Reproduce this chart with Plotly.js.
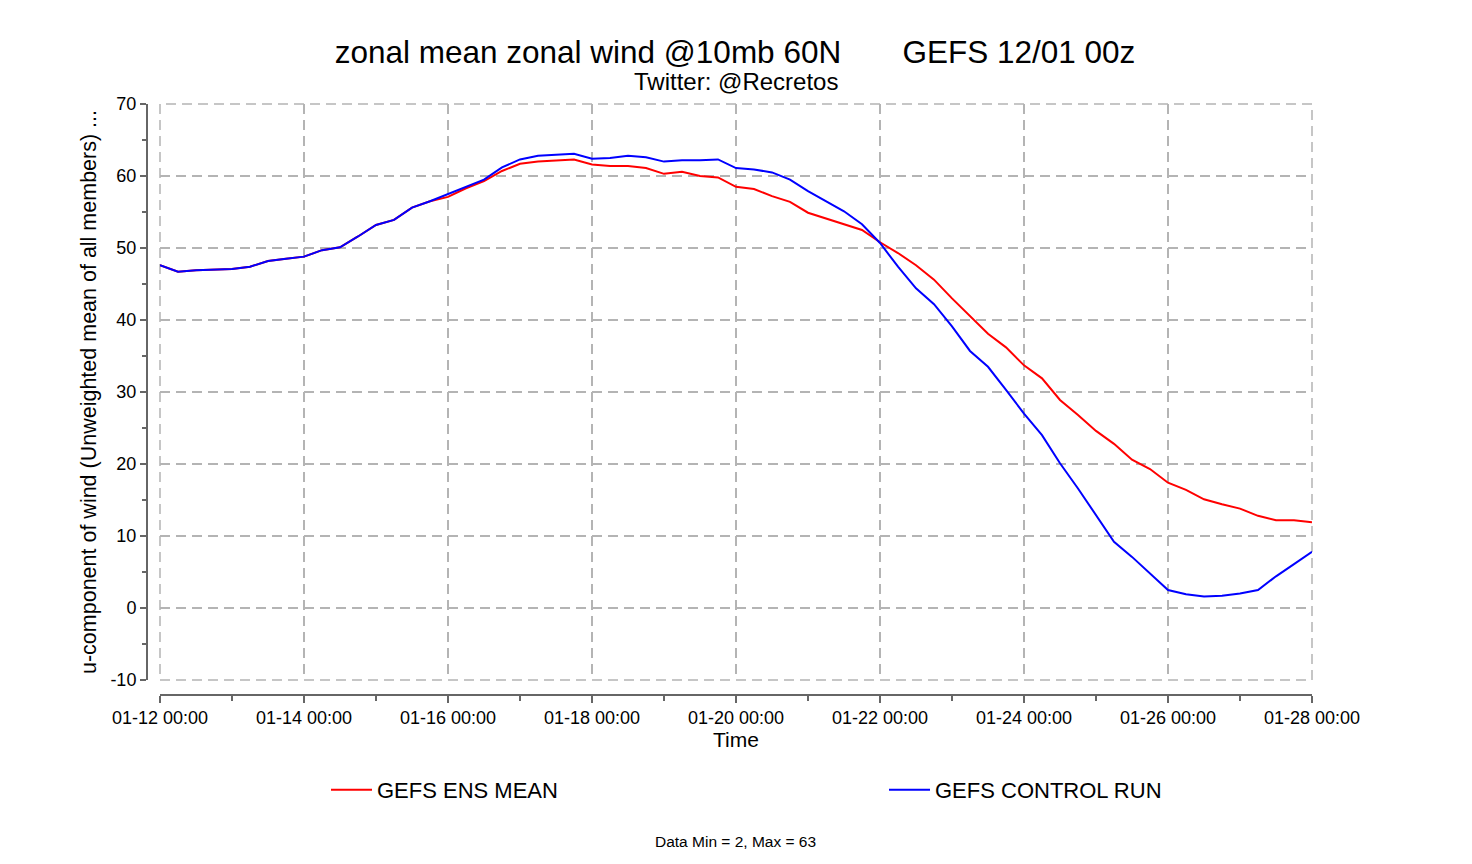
<!DOCTYPE html>
<html>
<head>
<meta charset="utf-8">
<script src="https://cdn.plot.ly/plotly-3.0.1.min.js"></script>
<style>
  body { margin: 0; background: #fff; }
  #chart { width: 1472px; height: 864px; }
</style>
</head>
<body>
<div id="chart"></div>
<script>
// 6-hourly steps from 01-12 00:00 to 01-28 00:00
var START = "2021-01-12T00:00:00";
var STEP_HOURS = 6;

var ensMean = [
    47.6, 46.7, 46.9, 47.0, 47.1, 47.4, 48.2, 48.5, 48.8, 49.7,
    50.1, 51.6, 53.2, 53.9, 55.6, 56.5, 57.1, 58.3, 59.3, 60.7,
    61.7, 62.0, 62.2, 62.3, 61.6, 61.4, 61.4, 61.1, 60.3, 60.6,
    60.0, 59.8, 58.5, 58.2, 57.2, 56.4, 54.9, 54.1, 53.4, 52.5,
    50.8, 49.3, 47.6, 45.6, 43.0, 40.6, 38.1, 36.2, 33.7, 31.9,
    28.9, 26.8, 24.6, 22.8, 20.6, 19.3, 17.4, 16.4, 15.1, 14.4,
    13.8, 12.8, 12.2, 12.2, 11.9
];
var controlRun = [
    47.6, 46.7, 46.9, 47.0, 47.1, 47.4, 48.2, 48.5, 48.8, 49.7,
    50.1, 51.6, 53.2, 53.9, 55.6, 56.5, 57.5, 58.5, 59.5, 61.2,
    62.3, 62.8, 62.9, 63.1, 62.4, 62.5, 62.8, 62.6, 62.0, 62.2,
    62.2, 62.3, 61.1, 60.9, 60.5, 59.5, 57.9, 56.5, 55.1, 53.3,
    50.7, 47.4, 44.4, 42.2, 39.1, 35.7, 33.5, 30.3, 27.0, 24.0,
    20.1, 16.6, 12.9, 9.2, 7.1, 4.8, 2.5, 1.9, 1.6, 1.7,
    2.0, 2.5, 4.4, 6.1, 7.8
];
var seriesNames = ["GEFS ENS MEAN", "GEFS CONTROL RUN"];
var yTickVals = [-10, 0, 10, 20, 30, 40, 50, 60, 70];
var yTickText = ["-10", "0", "10", "20", "30", "40", "50", "60", "70"];

function pad(n) { return (n < 10 ? "0" : "") + n; }
function timeLabels(count) {
    var out = [];
    var t0 = new Date(START + "Z").getTime();
    for (var i = 0; i < count; i++) {
        var d = new Date(t0 + i * STEP_HOURS * 3600000);
        out.push(d.getUTCFullYear() + "-" + pad(d.getUTCMonth() + 1) + "-" + pad(d.getUTCDate()) +
                 " " + pad(d.getUTCHours()) + ":00");
    }
    return out;
}
var times = timeLabels(ensMean.length);

var FONT = "Liberation Sans, Arial, sans-serif";
var GRID = "#b4b4b4";
var AXIS = "#666666";
var DASH = "10px,6px";

var traces = [{
    x: times, y: ensMean, name: seriesNames[0],
    mode: "lines", line: {color: "#ff0000", width: 2},
    legendwidth: 502   // pushes the second entry to the right
}, {
    x: times, y: controlRun, name: seriesNames[1],
    mode: "lines", line: {color: "#0000ff", width: 2}
}];

var layout = {
    width: 1472, height: 864,
    paper_bgcolor: "#ffffff", plot_bgcolor: "#ffffff",
    font: {family: FONT, color: "#000000", size: 18},
    margin: {l: 146, r: 160, t: 104, b: 170},
    title: {
        text: "zonal mean zonal wind @10mb 60N\u00a0\u00a0\u00a0\u00a0\u00a0\u00a0\u00a0GEFS 12/01 00z",
        font: {family: FONT, size: 31.5, color: "#000000"},
        xref: "container", x: 735 / 1472, xanchor: "center",
        yref: "container", y: 1 - 52 / 864, yanchor: "middle"
    },
    xaxis: {
        type: "date",
        domain: [14 / 1166, 1],
        anchor: "free", position: 0,
        range: [times[0], times[times.length - 1]],
        tick0: times[0], dtick: 2 * 86400000,
        tickformat: "%m-%d %H:%M",
        ticks: "outside", ticklen: 7, tickwidth: 1.5, tickcolor: AXIS,
        minor: {dtick: 86400000, ticks: "outside", ticklen: 5, tickwidth: 1.5, tickcolor: AXIS, showgrid: false},
        showline: true, linecolor: AXIS, linewidth: 1.5,
        showgrid: true, gridcolor: GRID, gridwidth: 1.5, griddash: DASH,
        zeroline: false,
        tickfont: {family: FONT, size: 18, color: "#000000"},
        title: {text: "Time", font: {family: FONT, size: 21, color: "#000000"}, standoff: 5}
    },
    yaxis: {
        domain: [14 / 590, 1],
        anchor: "free", position: 0,
        range: [-10, 70],
        tickmode: "array", tickvals: yTickVals, ticktext: yTickText,
        ticks: "outside", ticklen: 6, tickwidth: 1.5, tickcolor: AXIS,
        minor: {dtick: 5, ticks: "outside", ticklen: 4, tickwidth: 1.5, tickcolor: AXIS, showgrid: false},
        showline: true, linecolor: AXIS, linewidth: 1.5,
        showgrid: true, gridcolor: GRID, gridwidth: 1.5, griddash: DASH,
        zeroline: false,
        tickfont: {family: FONT, size: 18, color: "#000000"},
        title: {text: "u-component of wind (Unweighted mean of all members) ...",
                font: {family: FONT, size: 21.5, color: "#000000"}, standoff: 6}
    },
    shapes: [{
        // dashed frame round the plot area (edge grid lines)
        type: "rect", xref: "x domain", yref: "y domain",
        x0: 0, x1: 1, y0: 0, y1: 1, layer: "below",
        line: {color: GRID, width: 1.5, dash: DASH}
    }],
    showlegend: true,
    legend: {
        orientation: "h",
        x: (326 - 146) / 1166, xanchor: "left",
        y: (694 - 790) / 590, yanchor: "middle",
        font: {family: FONT, size: 22, color: "#000000"},
        itemwidth: 41,
        bgcolor: "rgba(0,0,0,0)"
    },
    annotations: [{
        text: "Twitter: @Recretos",
        xref: "paper", x: (736 - 146) / 1166, xanchor: "center",
        yref: "paper", y: (694 - 81) / 590, yanchor: "middle",
        showarrow: false,
        font: {family: FONT, size: 24, color: "#000000"}
    }, {
        text: "Data Min = 2, Max = 63",
        xref: "paper", x: (735 - 146) / 1166, xanchor: "center",
        yref: "paper", y: (694 - 841) / 590, yanchor: "middle",
        showarrow: false,
        font: {family: FONT, size: 15.5, color: "#000000"}
    }]
};

Plotly.newPlot("chart", traces, layout, {displayModeBar: false, staticPlot: true});
</script>
</body>
</html>
